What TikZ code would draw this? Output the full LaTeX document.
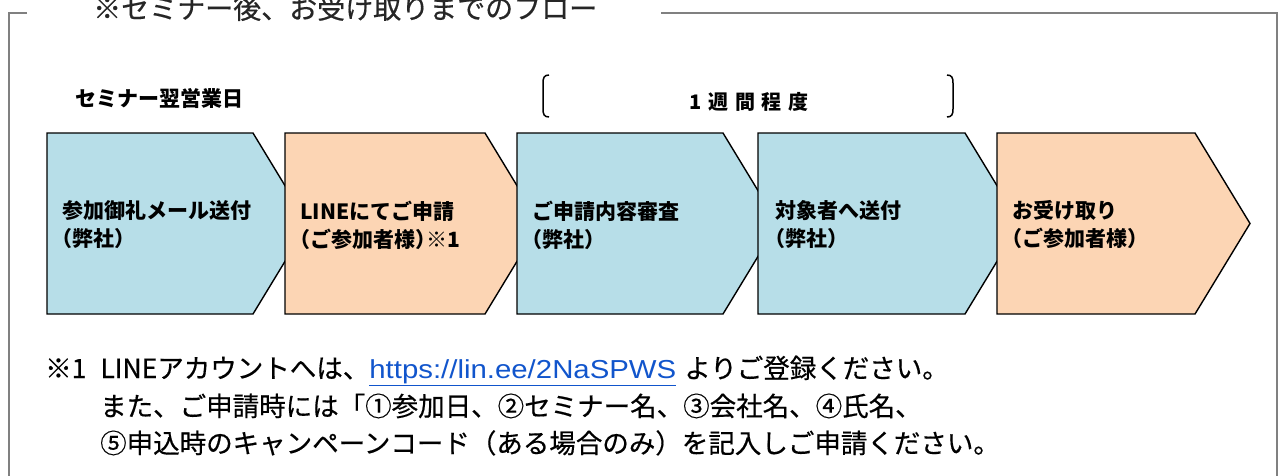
\documentclass[tikz,border=0pt]{standalone}
\usepackage{fontspec}
\newfontfamily\jpfont{Noto Sans CJK JP}
\newfontfamily\jpnote[FakeBold=0.5]{Noto Sans CJK JP}
\newfontfamily\jpstep[CharacterWidth=AlternateHalf]{Noto Sans CJK JP}
\newfontfamily\linkfont[FakeStretch=1.13]{Liberation Sans}
\definecolor{stepblue}{HTML}{B7DEE8}
\definecolor{steporange}{HTML}{FCD5B4}
\definecolor{framegray}{HTML}{808080}
\definecolor{linkblue}{HTML}{1155CC}

\begin{document}
\begin{tikzpicture}[x=1pt, y=-1pt, every node/.style={inner sep=0pt, font=\jpfont},
	stepbox/.style={draw=black, line width=1.4pt, line join=miter},
	steplabel/.style={anchor=west, align=left, font=\jpstep\bfseries\fontsize{21}{28}\selectfont},
	notetext/.style={anchor=base west, font=\jpnote\fontsize{26.5}{32}\selectfont}]
	\useasboundingbox (0,0) rectangle (1284,475);
	\clip (0,0) rectangle (1284,475);
	% frame with title gap
	\draw[framegray, line width=2pt] (27,13) -- (9,13) -- (9,480);
	\draw[framegray, line width=2pt] (661,13) -- (1277,13) -- (1277,480);
	\node[anchor=west, font=\jpnote\fontsize{28}{30}\selectfont, text=black!85] (title) at (93,8) {※セミナー後、お受け取りまでのフロー};
	% labels above the flow
	\node[anchor=west, font=\jpfont\bfseries\fontsize{21}{24}\selectfont] (nextday) at (75,98) {セミナー翌営業日};
	\node[font=\jpfont\bfseries\fontsize{20}{24}\selectfont] (week) at (749,102) {1\hspace{6.5pt}週\hspace{6.5pt}間\hspace{6.5pt}程\hspace{6.5pt}度};
	\draw[line width=1.5pt] (549,75) .. controls (544,75) and (543,78) .. (543,83) -- (543,109) .. controls (543,114) and (544,117) .. (549,117);
	\draw[line width=1.5pt] (947,75) .. controls (952,75) and (953,78) .. (953,83) -- (953,109) .. controls (953,114) and (952,117) .. (947,117);
	% steps
	\draw[stepbox, fill=stepblue] (47,133) -- (253,133) -- (308,223.5) -- (253,314) -- (47,314) -- cycle;
	\node[steplabel] (mail) at (62,225) {参加御礼メール送付\\（弊社）};
	\draw[stepbox, fill=steporange] (285,133) -- (485,133) -- (540,223.5) -- (485,314) -- (285,314) -- cycle;
	\node[steplabel] (apply) at (300,225) {LINEにてご申請\\（ご参加者様）※1};
	\draw[stepbox, fill=stepblue] (517,133) -- (723,133) -- (778,223.5) -- (723,314) -- (517,314) -- cycle;
	\node[steplabel] (review) at (532,225) {ご申請内容審査\\（弊社）};
	\draw[stepbox, fill=stepblue] (758,133) -- (965,133) -- (1020,223.5) -- (965,314) -- (758,314) -- cycle;
	\node[steplabel] (send) at (775,225) {対象者へ送付\\（弊社）};
	\draw[stepbox, fill=steporange] (997,133) -- (1195,133) -- (1250,223.5) -- (1195,314) -- (997,314) -- cycle;
	\node[steplabel] (receive) at (1012,225) {お受け取り\\（ご参加者様）};
	% footnote
	\node[notetext] (note1) at (45,378) {※1\hspace{14pt}LINEアカウントへは、{\linkfont\fontsize{26}{30}\selectfont\textcolor{linkblue}{\underline{https://lin.ee/2NaSPWS}}}\hspace{8pt}よりご登録ください。};
	\node[notetext] (note2) at (100,416) {また、ご申請時には「①参加日、②セミナー名、③会社名、④氏名、};
	\node[notetext] (note3) at (100,453) {⑤申込時のキャンペーンコード（ある場合のみ）を記入しご申請ください。};
\end{tikzpicture}
\end{document}
